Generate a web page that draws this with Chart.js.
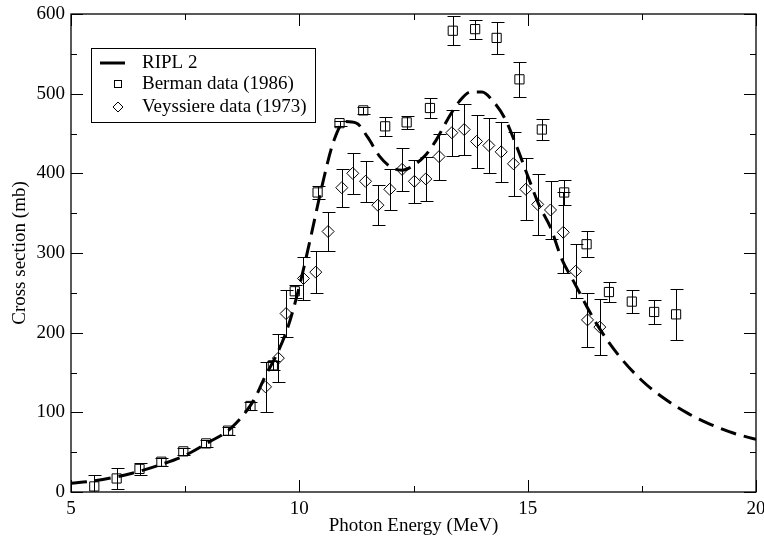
<!DOCTYPE html>
<html>
<head>
<meta charset="utf-8">
<script src="https://cdn.jsdelivr.net/npm/chart.js@4"></script>
<style>
  html, body { margin: 0; padding: 0; background: #fff; }
  #wrap { width: 764px; height: 541px; }
</style>
</head>
<body>
<div id="wrap"><canvas id="gdrChart" width="764" height="541"></canvas></div>
<script>
// RIPL 2 calculation (dashed curve)
var riplE = [5, 5.5, 6, 6.5, 7, 7.5, 8, 8.5, 9, 9.25, 9.5, 9.75, 10, 10.25, 10.5, 10.75, 11, 11.25, 11.5, 11.75, 12, 12.25, 12.5, 12.75, 13, 13.25, 13.5, 13.75, 14, 14.25, 14.5, 14.75, 15, 15.25, 15.5, 15.75, 16, 16.5, 17, 17.5, 18, 18.5, 19, 19.5, 20];
var riplXS = [11, 14, 19, 26, 35, 46, 62, 80, 115, 145, 172, 207, 258, 320, 385, 440, 465, 463, 445, 422, 408, 404, 410, 422, 442, 468, 490, 502, 502, 490, 469, 435, 397, 360, 332, 292, 265, 212, 171, 140, 117, 99, 85, 74, 66];

// Berman data (1986)
var bermanE = [5.51, 6.0, 6.5, 6.98, 7.46, 7.96, 8.44, 8.93, 9.42, 9.9, 10.4, 10.88, 11.4, 11.88, 12.35, 12.86, 13.36, 13.85, 14.32, 14.82, 15.31, 15.8, 16.29, 16.78, 17.28, 17.77, 18.25];
var bermanXS = [7, 17, 29, 38, 51, 61, 77, 108, 159, 252, 376, 463, 479, 459, 464, 482, 579, 581, 570, 518, 455, 376, 311, 251, 239, 226, 223];
var bermanErr = [14, 13, 8, 5, 4, 4, 5, 5, 6, 8, 8, 3, 4, 12, 8, 12, 18, 12, 20, 22, 13, 16, 16, 12, 14, 15, 32];

// Veyssiere data (1973)
var veyE = [9.26, 9.54, 9.71, 10.09, 10.36, 10.63, 10.93, 11.17, 11.45, 11.72, 11.98, 12.25, 12.52, 12.77, 13.06, 13.34, 13.61, 13.88, 14.15, 14.42, 14.69, 14.96, 15.22, 15.5, 15.78, 16.05, 16.31, 16.58];
var veyXS = [132, 168, 224, 268, 276, 327, 382, 400, 390, 360, 380, 405, 390, 393, 421, 451, 455, 440, 435, 427, 412, 380, 361, 354, 326, 277, 216, 207];
var veyErr = [31, 30, 29, 27, 26, 24, 24, 26, 26, 25, 26, 27, 27, 28, 29, 29, 32, 33, 35, 38, 40, 39, 38, 37, 51, 34, 34, 35];

var xTicks = [5, 10, 15, 20];
var yTicks = [0, 100, 200, 300, 400, 500, 600];

var serif = 'Liberation Serif';

function toPoints(xs, ys, errs) {
  return xs.map(function (x, i) {
    var p = { x: x, y: ys[i] };
    if (errs) p.err = errs[i];
    return p;
  });
}

// vertical error bars with caps
var errorBars = {
  id: 'errorBars',
  afterDatasetsDraw: function (chart) {
    var ctx = chart.ctx, xs = chart.scales.x, ys = chart.scales.y, a = chart.chartArea;
    ctx.save();
    ctx.beginPath();
    ctx.rect(a.left, a.top, a.right - a.left, a.bottom - a.top);
    ctx.clip();
    ctx.strokeStyle = '#000';
    ctx.lineWidth = 1;
    chart.data.datasets.forEach(function (ds) {
      if (!ds.showErr) return;
      ds.data.forEach(function (p) {
        var px = Math.round(xs.getPixelForValue(p.x)) + 0.5;
        var top = Math.round(ys.getPixelForValue(p.y + p.err)) + 0.5;
        var bot = Math.round(ys.getPixelForValue(p.y - p.err)) + 0.5;
        ctx.beginPath();
        ctx.moveTo(px, top); ctx.lineTo(px, bot);
        ctx.moveTo(px - 6, top); ctx.lineTo(px + 7, top);
        ctx.moveTo(px - 6, bot); ctx.lineTo(px + 7, bot);
        ctx.stroke();
      });
    });
    ctx.restore();
  }
};

// frame, inward ticks on all sides, and the boxed legend
var frameAndLegend = {
  id: 'frameAndLegend',
  afterDraw: function (chart) {
    var ctx = chart.ctx, xs = chart.scales.x, ys = chart.scales.y, a = chart.chartArea;
    ctx.save();
    ctx.strokeStyle = '#000';
    ctx.lineWidth = 1.3;
    ctx.strokeRect(a.left, a.top, a.right - a.left, a.bottom - a.top);
    ctx.lineWidth = 1;
    ctx.beginPath();
    for (var e = 5; e <= 20; e += 2.5) {
      var len = (e % 5 === 0) ? 12 : 6;
      var px = Math.round(xs.getPixelForValue(e)) + 0.5;
      ctx.moveTo(px, a.bottom); ctx.lineTo(px, a.bottom - len);
      ctx.moveTo(px, a.top); ctx.lineTo(px, a.top + len);
    }
    for (var v = 0; v <= 600; v += 50) {
      var l2 = (v % 100 === 0) ? 12 : 6;
      var py = Math.round(ys.getPixelForValue(v)) + 0.5;
      ctx.moveTo(a.left, py); ctx.lineTo(a.left + l2, py);
      ctx.moveTo(a.right, py); ctx.lineTo(a.right - l2, py);
    }
    ctx.stroke();

    // legend
    var lx = 91, ly = 48, lw = 224, lh = 74;
    ctx.fillStyle = '#fff';
    ctx.fillRect(lx, ly, lw, lh);
    ctx.lineWidth = 1;
    ctx.strokeRect(lx + 0.5, ly + 0.5, lw, lh);
    var rows = [ly + 15, ly + 36, ly + 59];
    ctx.lineWidth = 3;
    ctx.beginPath();
    ctx.moveTo(100, rows[0]); ctx.lineTo(125, rows[0]);
    ctx.stroke();
    ctx.lineWidth = 1;
    ctx.strokeRect(114.5, rows[1] - 3.5, 7, 7);
    ctx.beginPath();
    ctx.moveTo(118, rows[2] - 5); ctx.lineTo(123, rows[2]);
    ctx.lineTo(118, rows[2] + 5); ctx.lineTo(113, rows[2]);
    ctx.closePath();
    ctx.stroke();
    ctx.fillStyle = '#000';
    ctx.font = '19px "' + serif + '"';
    ctx.textBaseline = 'middle';
    ctx.textAlign = 'left';
    chart.data.datasets.forEach(function (ds, i) {
      ctx.fillText(ds.label, 142, rows[i]);
    });
    ctx.restore();
  }
};

new Chart(document.getElementById('gdrChart').getContext('2d'), {
  type: 'scatter',
  data: {
    datasets: [{
      label: 'RIPL 2',
      data: toPoints(riplE, riplXS),
      showLine: true,
      borderColor: '#000',
      borderWidth: 3,
      borderDash: [16, 8],
      cubicInterpolationMode: 'monotone',
      pointRadius: 0,
      fill: false,
      order: 0
    }, {
      label: 'Berman data (1986)',
      data: toPoints(bermanE, bermanXS, bermanErr),
      showErr: true,
      pointStyle: 'rect',
      pointRadius: 6.5,
      borderColor: '#000',
      borderWidth: 1,
      backgroundColor: 'rgba(0,0,0,0)',
      order: 1
    }, {
      label: 'Veyssiere data (1973)',
      data: toPoints(veyE, veyXS, veyErr),
      showErr: true,
      pointStyle: 'rectRot',
      pointRadius: 6,
      borderColor: '#000',
      borderWidth: 1,
      backgroundColor: 'rgba(0,0,0,0)',
      order: 2
    }]
  },
  options: {
    responsive: false,
    animation: false,
    layout: { padding: { top: 14, right: 8, left: 0, bottom: 0 } },
    plugins: {
      legend: { display: false },
      tooltip: { enabled: false }
    },
    scales: {
      x: {
        type: 'linear',
        min: 5,
        max: 20,
        afterBuildTicks: function (s) { s.ticks = xTicks.map(function (v) { return { value: v }; }); },
        afterFit: function (s) { s.height = 49; s.paddingLeft = 0; s.paddingRight = 0; },
        grid: { display: false, drawTicks: false },
        border: { display: false },
        ticks: { color: '#000', padding: 6, maxRotation: 0, font: { family: serif, size: 19 } },
        title: {
          display: true,
          text: 'Photon Energy (MeV)',
          color: '#000',
          font: { family: serif, size: 19 },
          padding: { top: 0, bottom: 4 }
        }
      },
      y: {
        type: 'linear',
        min: 0,
        max: 600,
        afterBuildTicks: function (s) { s.ticks = yTicks.map(function (v) { return { value: v }; }); },
        afterFit: function (s) { s.width = 71; s.paddingTop = 0; s.paddingBottom = 0; },
        grid: { display: false, drawTicks: false },
        border: { display: false },
        ticks: { color: '#000', padding: 6, font: { family: serif, size: 19 } },
        title: {
          display: true,
          text: 'Cross section (mb)',
          color: '#000',
          font: { family: serif, size: 19 },
          padding: { top: 9, bottom: 0 }
        }
      }
    }
  },
  plugins: [errorBars, frameAndLegend]
});
</script>
</body>
</html>
